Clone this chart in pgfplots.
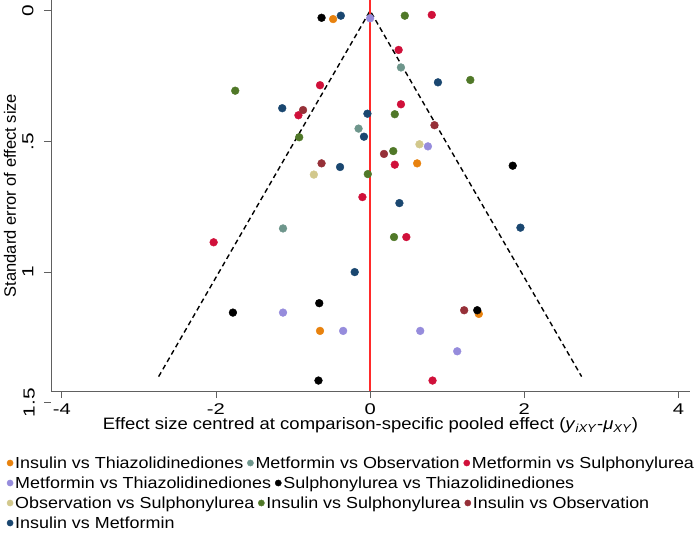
\documentclass[border=0pt]{standalone}
\usepackage{pgfplots}
\pgfplotsset{compat=1.18}
\usepackage{fontspec}
\setmainfont{Liberation Sans}
\usepackage{graphicx}
\definecolor{cITZ}{HTML}{E8820E}
\definecolor{cMO}{HTML}{6E968C}
\definecolor{cMS}{HTML}{D0103A}
\definecolor{cMTZ}{HTML}{968CDC}
\definecolor{cSTZ}{HTML}{000000}
\definecolor{cOS}{HTML}{D2C88C}
\definecolor{cIS}{HTML}{507828}
\definecolor{cIO}{HTML}{963038}
\definecolor{cIM}{HTML}{1A4770}
\definecolor{axgray}{HTML}{606060}
\definecolor{redline}{HTML}{FF2A2A}
\newcommand{\lx}[1]{\scalebox{1.12}[1]{#1}}
\newcommand{\tx}[1]{\scalebox{1.3}[1]{#1}}
\pgfplotsset{
  pts/.style={only marks, mark=*, mark size=3.9pt, color=#1, mark options={fill=#1, draw=#1}},
  legrow/.style={hide axis, scale only axis, width=10pt, height=10pt,
    xmin=0, xmax=1, ymin=0, ymax=1, anchor=south west,
    legend columns=-1, legend cell align=left,
    legend image code/.code={\draw[##1] plot coordinates {(0pt,0pt)};},
    legend style={draw=none, fill=none, inner sep=0pt, outer sep=0pt,
      at={(0,0)}, anchor=west, column sep=2pt,
      /tikz/every even column/.append style={column sep=4pt},
      nodes={inner sep=0pt, text height=11.5pt, text depth=0pt,
        font=\fontsize{16}{18}\selectfont}}},
  li/.style={only marks, mark=*, mark size=3.1pt, color=#1, mark options={fill=#1, draw=#1}}
}
\begin{document}
\begin{tikzpicture}
\begin{axis}[
  at={(0pt,0pt)}, anchor=south west, scale only axis,
  width=639pt, height=391pt,
  xmin=-4.14, xmax=4.15, ymin=-0.041, ymax=1.455, y dir=reverse,
  axis x line*=bottom, axis y line*=left,
  axis line style={-, draw=axgray, line width=0.8pt},
  xtick={-4,-2,0,2,4}, xticklabels={\tx{-4},\tx{-2},\tx{0},\tx{2},\tx{4}},
  ytick={0,0.5,1}, yticklabels={\tx{0},\tx{.5},\tx{1}},
  tick align=outside, major tick length=7pt,
  tick style={draw=axgray, line width=0.8pt},
  xticklabel style={font=\fontsize{15.5}{17}\selectfont, yshift=-2pt},
  yticklabel style={font=\fontsize{16}{18}\selectfont, xshift=-7pt, rotate=90, anchor=south},
  xlabel={\lx{Effect size centred at comparison-specific pooled effect (\textit{y}\textsubscript{\textit{iXY}}-\textit{μ}\textsubscript{\textit{XY}})}},
  ylabel={Standard error of effect size},
  xlabel style={at={(axis description cs:0.5,-0.0882)}, anchor=center, font=\fontsize{16.5}{18}\selectfont},
  ylabel style={at={(axis description cs:-0.0642,0.5)}, anchor=center, font=\fontsize{16.5}{18}\selectfont},
  clip=false,
]
\addplot[black, line width=1.4pt, dash pattern=on 5pt off 3.5pt] coordinates {(-2.744,1.40) (0,0) (2.744,1.40)};
\addplot[redline, line width=1.6pt] coordinates {(0,-0.041) (0,1.455)};
% Insulin vs Thiazolidinediones
\addplot[pts=cITZ] coordinates {(-0.48,0.032) (0.61,0.584) (-0.65,1.225) (1.41,1.160)};
% Metformin vs Observation
\addplot[pts=cMO] coordinates {(0.40,0.217) (-0.15,0.451) (-1.13,0.833)};
% Metformin vs Sulphonylurea
\addplot[pts=cMS] coordinates {(0.80,0.016) (0.37,0.150) (-0.65,0.285) (0.40,0.358) (-0.93,0.40) (0.32,0.589) (-0.10,0.713) (0.47,0.866) (-2.03,0.886) (0.81,1.415)};
% Metformin vs Thiazolidinediones
\addplot[pts=cMTZ] coordinates {(0.0,0.029) (0.75,0.519) (-1.13,1.155) (-0.35,1.225) (0.65,1.225) (1.13,1.303)};
% Sulphonylurea vs Thiazolidinediones
\addplot[pts=cSTZ] coordinates {(-0.63,0.027) (1.85,0.593) (-0.66,1.119) (-1.78,1.155) (1.39,1.146) (-0.67,1.415)};
% Observation vs Sulphonylurea
\addplot[pts=cOS] coordinates {(0.64,0.511) (-0.73,0.627)};
% Insulin vs Sulphonylurea
\addplot[pts=cIS] coordinates {(-1.75,0.306) (-0.92,0.484) (0.45,0.019) (1.30,0.265) (0.32,0.396) (0.30,0.537) (-0.03,0.625) (0.31,0.866)};
% Insulin vs Observation
\addplot[pts=cIO] coordinates {(-0.87,0.38) (0.835,0.438) (0.18,0.548) (-0.63,0.584) (1.22,1.146)};
% Insulin vs Metformin
\addplot[pts=cIM] coordinates {(-1.14,0.373) (-0.38,0.019) (0.88,0.274) (-0.035,0.394) (-0.08,0.482) (-0.39,0.598) (0.38,0.736) (-0.20,1.000) (1.95,0.830)};
\draw[axgray, line width=0.8pt] (axis cs:-4.14,1.5) -- ++(-7pt,0pt);
\node[rotate=90, anchor=south, font=\fontsize{16}{18}\selectfont, inner sep=0pt] at ([xshift=-16pt]axis cs:-4.14,1.5) {\tx{1.5}};
\end{axis}
\begin{axis}[legrow, at={(-44pt,-72pt)}]
\addlegendimage{li=cITZ}\addlegendentry{\lx{Insulin vs Thiazolidinediones}}
\addlegendimage{li=cMO}\addlegendentry{\lx{Metformin vs Observation}}
\addlegendimage{li=cMS}\addlegendentry{\lx{Metformin vs Sulphonylurea}}
\end{axis}
\begin{axis}[legrow, at={(-44pt,-92pt)}]
\addlegendimage{li=cMTZ}\addlegendentry{\lx{Metformin vs Thiazolidinediones}}
\addlegendimage{li=cSTZ}\addlegendentry{\lx{Sulphonylurea vs Thiazolidinediones}}
\end{axis}
\begin{axis}[legrow, at={(-44pt,-112pt)}]
\addlegendimage{li=cOS}\addlegendentry{\lx{Observation vs Sulphonylurea}}
\addlegendimage{li=cIS}\addlegendentry{\lx{Insulin vs Sulphonylurea}}
\addlegendimage{li=cIO}\addlegendentry{\lx{Insulin vs Observation}}
\end{axis}
\begin{axis}[legrow, at={(-44pt,-132pt)}]
\addlegendimage{li=cIM}\addlegendentry{\lx{Insulin vs Metformin}}
\end{axis}
\pgfresetboundingbox
\path[use as bounding box] (-51pt,-142pt) rectangle (649pt,391pt);
\end{tikzpicture}
\end{document}
